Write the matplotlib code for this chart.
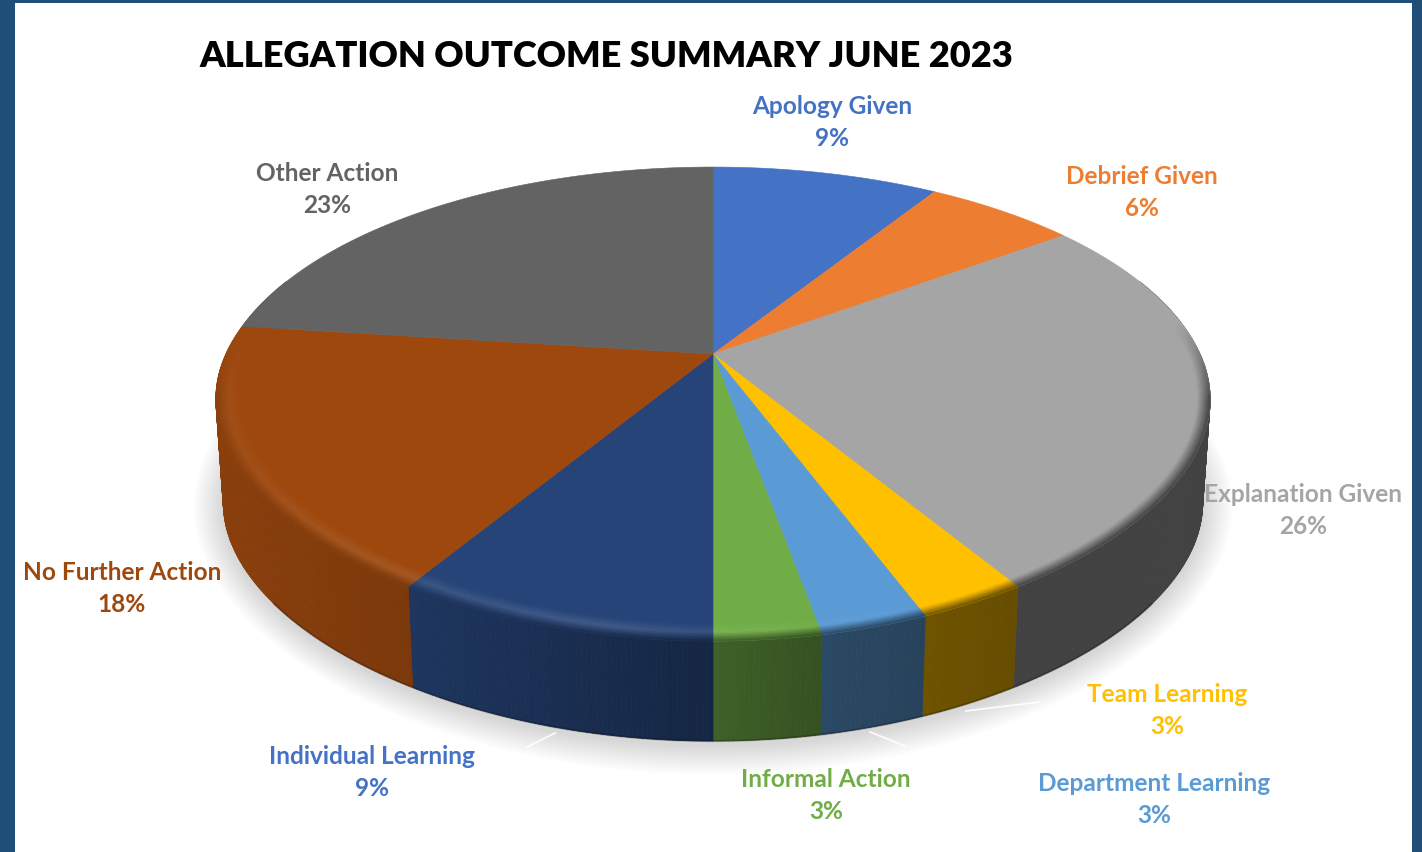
import numpy as np
import matplotlib
matplotlib.use('Agg')
import matplotlib.pyplot as plt
from matplotlib.collections import PolyCollection
from matplotlib.colors import to_rgb
from matplotlib.patches import Rectangle

plt.rcParams['font.family'] = ['Lato', 'DejaVu Sans']

categories = ['Apology Given', 'Debrief Given', 'Explanation Given', 'Team Learning',
              'Department Learning', 'Informal Action', 'Individual Learning',
              'No Further Action', 'Other Action']
values = [9, 6, 26, 3, 3, 3, 9, 18, 23]
slice_colors = ['#4472C4', '#ED7D31', '#A5A5A5', '#FFC000', '#5B9BD5',
                '#70AD47', '#264478', '#9E480E', '#636363']
label_colors = ['#4472C4', '#ED7D31', '#A5A5A5', '#FFC000', '#5B9BD5',
                '#70AD47', '#4472C4', '#9E480E', '#636363']
title = 'ALLEGATION OUTCOME SUMMARY JUNE 2023'

# label centres, pixels
label_x = [832, 1142, 1303, 1167, 1154, 826, 372, 122, 327]
label_y = [106, 176, 494, 695, 784, 780, 757, 572, 173]

# perspective disc
CX, CY = 713, 355
A, B, K = 477.5, 222.0, 0.207
R_OUT = 1.02
R_BEVEL = 0.97
R_PEAK = 0.995
S, DROP = 0.985, 104.3
PINCH = 0.056
STEP = 0.5


def project(theta, r=R_OUT):
    t = np.radians(theta)
    w = 1 + K * r * np.cos(t)
    # the near side of the disc narrows a little
    pinch = 1 - PINCH * np.clip(-np.cos(t), 0, 1) ** 2
    return CX + A * r * np.sin(t) / w * pinch, CY - B * r * np.cos(t) / w


def project_bottom(theta):
    x, y = project(theta)
    return CX + S * (x - CX), CY + DROP + S * (y - CY)


def wall_shade(x):
    return np.interp(x, [220, 415, 714, 822, 1017, 1210], [0.87, 0.78, 0.56, 0.47, 0.40, 0.40])


def highlight(x):
    return np.interp(x, [220, 330, 600, 800, 1000], [0.04, 0.08, 0.13, 0.04, 0.0])


def bevel_strength(theta):
    return np.interp(theta, [82, 102, 258, 274], [0, 1, 1, 0])


def arc(start, end):
    n = max(int((end - start) / STEP), 1)
    return np.linspace(start, end, n + 1)


fig = plt.figure(figsize=(14.22, 8.53), dpi=100, facecolor='#1F4E79')
ax = fig.add_axes([0, 0, 1, 1])
ax.set_xlim(0, 1422)
ax.set_ylim(853, 0)
ax.axis('off')
ax.add_patch(Rectangle((15, 4), 1397, 860, facecolor='white', edgecolor='none', zorder=0))

edges = np.cumsum([0] + values) / sum(values) * 360

# soft floor shadow
th = np.linspace(0, 360, 361)
bx, by = project_bottom(th)
mid_y = (by.min() + by.max()) / 2
for e in np.arange(30, 0, -1.5):
    sx = CX + (bx - CX) * (1 + e / 490)
    sy = mid_y + (by - mid_y) * (1 + e / 235) + 4
    ax.fill(sx, sy, color='black', alpha=0.008, lw=0, zorder=1)

# outer wall, cut into thin strips so the light can change round the rim
wall_polys, wall_cols = [], []
for i, col in enumerate(slice_colors):
    base = np.array(to_rgb(col))
    lo, hi = max(edges[i], 70), min(edges[i + 1], 290)
    if hi <= lo:
        continue
    a = arc(lo, hi)
    for t0, t1 in zip(a[:-1], a[1:]):
        x0, y0 = project(t0)
        x1, y1 = project(t1)
        x2, y2 = project_bottom(t1)
        x3, y3 = project_bottom(t0)
        wall_polys.append([(x0, y0), (x1, y1), (x2, y2), (x3, y3)])
        wall_cols.append(base * wall_shade((x0 + x1) / 2))
ax.add_collection(PolyCollection(wall_polys, facecolors=wall_cols, edgecolors=wall_cols,
                                 linewidths=0.6, zorder=2))

# darker line along the foot of the wall
front = np.linspace(125, 235, 200)
fx, fy = project_bottom(front)
ax.plot(fx, fy, color='black', alpha=0.22, lw=1.6, zorder=3)

# top face
for i, col in enumerate(slice_colors):
    a = arc(edges[i], edges[i + 1])
    x, y = project(a)
    ax.fill(np.r_[CX, x], np.r_[CY, y], facecolor=col, edgecolor=col, lw=0.4, zorder=4)

# rounded edge of the top face
radii = np.linspace(R_BEVEL, R_OUT, 13)
bev_polys, bev_cols = [], []
for i, col in enumerate(slice_colors):
    base = np.array(to_rgb(col))
    a = arc(edges[i], edges[i + 1])
    for t0, t1 in zip(a[:-1], a[1:]):
        tm = (t0 + t1) / 2
        v = bevel_strength(tm)
        if v == 0:
            continue
        xm = project(tm)[0]
        lit = base + (1 - base) * highlight(xm)
        dark = base * wall_shade(xm)
        for r0, r1 in zip(radii[:-1], radii[1:]):
            rm = (r0 + r1) / 2
            if rm < R_PEAK:
                f = (rm - R_BEVEL) / (R_PEAK - R_BEVEL)
                c = base + (lit - base) * f
            else:
                f = (rm - R_PEAK) / (R_OUT - R_PEAK)
                c = lit + (dark - lit) * f
            c = base + (c - base) * v
            x0, y0 = project(t0, r0)
            x1, y1 = project(t1, r0)
            x2, y2 = project(t1, r1)
            x3, y3 = project(t0, r1)
            bev_polys.append([(x0, y0), (x1, y1), (x2, y2), (x3, y3)])
            bev_cols.append(c)
ax.add_collection(PolyCollection(bev_polys, facecolors=bev_cols, edgecolors=bev_cols,
                                 linewidths=0.4, zorder=5))

# leader lines
ax.plot([966, 1040], [712, 703], color='white', lw=1.3, alpha=0.9, zorder=3)
ax.plot([870, 905], [733, 747], color='white', lw=1.3, alpha=0.9, zorder=3)
ax.plot([555, 527], [734, 748], color='white', lw=1.3, alpha=0.9, zorder=3)

for name, val, col, x, y in zip(categories, values, label_colors, label_x, label_y):
    ax.text(x, y, name, color=col, fontsize=17.6, fontweight='bold', ha='center', va='center', zorder=6)
    ax.text(x, y + 32, f'{val}%', color=col, fontsize=17.6, fontweight='bold', ha='center', va='center', zorder=6)

ax.text(199, 56, title, color='black', fontsize=26.1, fontweight='heavy', ha='left', va='center', zorder=6)

plt.savefig('out.png', dpi=100, facecolor=fig.get_facecolor())
